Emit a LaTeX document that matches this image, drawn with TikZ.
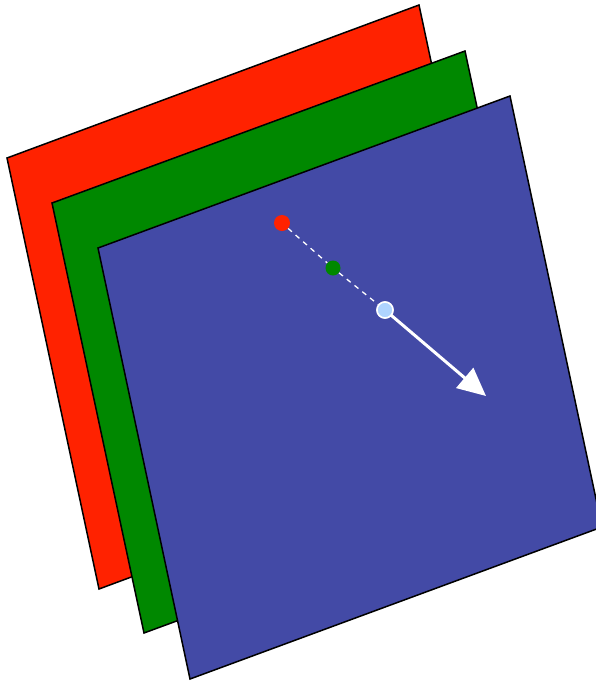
\documentclass[tikz,border=0pt]{standalone}
\usetikzlibrary{arrows.meta}
\definecolor{pred}{RGB}{255,34,0}
\definecolor{pgreen}{RGB}{0,136,0}
\definecolor{pblue}{RGB}{67,74,166}
\definecolor{plight}{RGB}{175,212,255}
\tikzset{
  sheet/.style={draw=black,line width=1.5pt,line join=miter},
  dot/.style={circle,inner sep=0pt,minimum size=16pt}
}
\begin{document}
\begin{tikzpicture}[x=1pt,y=-1pt]
\useasboundingbox (0,0) rectangle (596,681);
\clip (0,0) rectangle (596,681);
% red sheet
\coordinate (r1) at (7,158);
\coordinate (r2) at (419,5);
\coordinate (r3) at (511,436);
\coordinate (r4) at (99,589);
\fill[pred] (r1)--(r2)--(r3)--(r4)--cycle;
\draw[sheet] (r1)--(r2)--(r3)--(r4)--cycle;
% green sheet
\coordinate (g1) at (52,203);
\coordinate (g2) at (465,51);
\coordinate (g3) at (557,481);
\coordinate (g4) at (144,633);
\fill[pgreen] (g1)--(g2)--(g3)--(g4)--cycle;
\draw[sheet] (g1)--(g2)--(g3)--(g4)--cycle;
% blue sheet
\coordinate (b1) at (98,248);
\coordinate (b2) at (510,96);
\coordinate (b3) at (602,527);
\coordinate (b4) at (190,679);
\fill[pblue] (b1)--(b2)--(b3)--(b4)--cycle;
\draw[sheet] (b1)--(b2)--(b3)--(b4)--cycle;
% dots
\node[dot,fill=pred] (dr) at (282,223) {};
\node[dot,fill=pgreen,minimum size=15pt] (dg) at (333,268) {};
\node[dot,fill=plight,draw=white,line width=1.5pt] (db) at (385,310) {};
\coordinate (tip) at (486,396);
\draw[white,line width=1.3pt,dash pattern=on 5pt off 5pt] (dr)--(dg);
\draw[white,line width=1.3pt,dash pattern=on 5pt off 5pt] (dg)--(db);
\draw[white,line width=3pt,-{Triangle[length=28pt,width=26pt]}] (db.center)--(tip);
\node[dot,fill=plight,draw=white,line width=1.5pt] at (db) {};
\end{tikzpicture}
\end{document}
